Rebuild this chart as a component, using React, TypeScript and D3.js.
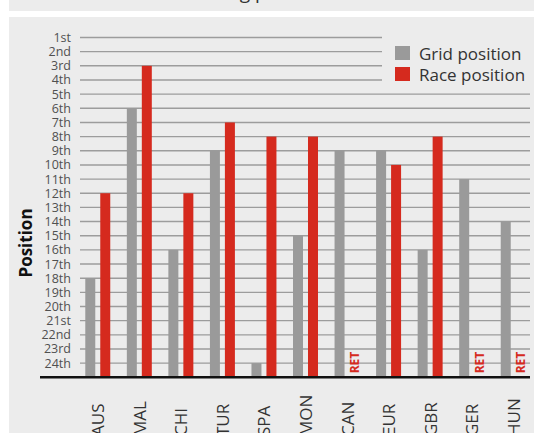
import React from "react";
import * as d3 from "d3";

const categories = ["AUS", "MAL", "CHI", "TUR", "SPA", "MON", "CAN", "EUR", "GBR", "GER", "HUN"];
const gridPositions: number[] = [18, 6, 16, 9, 24, 15, 9, 9, 16, 11, 14];
const racePositions: (number | null)[] = [12, 3, 12, 7, 8, 8, null, 10, 8, null, null];
const tickValues = d3.range(1, 25);
const tickLabels = [
  "1st", "2nd", "3rd", "4th", "5th", "6th", "7th", "8th", "9th", "10th", "11th", "12th",
  "13th", "14th", "15th", "16th", "17th", "18th", "19th", "20th", "21st", "22nd", "23rd", "24th",
];
const seriesNames = ["Grid position", "Race position"];
const seriesColors = ["#9a9a9a", "#d52a1e"];

const W = 534;
const H = 433;
const FONT = "'Open Sans', 'DejaVu Sans', sans-serif";

export default function App() {
  const y = d3.scaleLinear().domain([1, 25]).range([37.5, 377.3]);
  const x = d3.scaleBand<string>().domain(categories).range([77, 534]).paddingInner(0).paddingOuter(0);
  const x1 = d3
    .scaleBand<string>()
    .domain(["grid", "race"])
    .range([0, x.bandwidth()])
    .paddingInner(0.333)
    .paddingOuter(0.553);
  const base = y(25);

  return (
    <svg
      width={W}
      height={H}
      style={{ position: "absolute", left: 0, top: 0, background: "#ffffff" }}
      fontFamily={FONT}
    >
      {/* top strip with title (cut off at the top, as in the reference) */}
      <rect x={9} y={0} width={W - 9} height={11} fill="#ececec" />
      <text x={222} y={-1} textAnchor="middle" fontSize={19} fill="#333">
        Grid vs finishing positions
      </text>
      <rect x={0} y={0} width={9} height={H} fill="#ffffff" />
      {/* panel */}
      <rect x={9} y={17} width={W - 9} height={H - 17} fill="#ececec" />

      {/* gridlines */}
      {tickValues.map((v) => (
        <line
          key={"g" + v}
          x1={80}
          x2={v <= 4 ? 382 : 530}
          y1={y(v)}
          y2={y(v)}
          stroke="#9c9c9c"
          strokeWidth={1.4}
        />
      ))}

      {/* tick labels */}
      {tickValues.map((v, i) => (
        <text
          key={"t" + v}
          x={71}
          y={y(v)}
          textAnchor="end"
          dominantBaseline="central"
          fontSize={12.5}
          fill="#505050"
        >
          {tickLabels[i]}
        </text>
      ))}

      {/* bars */}
      {categories.map((c, i) => {
        const bx = x(c)!;
        const g = gridPositions[i];
        const r = racePositions[i];
        const gx = bx + x1("grid")!;
        const rx = bx + x1("race")!;
        return (
          <g key={c}>
            <rect x={gx} y={y(g)} width={x1.bandwidth()} height={base - y(g)} fill={seriesColors[0]} />
            {r !== null ? (
              <rect x={rx} y={y(r)} width={x1.bandwidth()} height={base - y(r)} fill={seriesColors[1]} />
            ) : (
              <text
                transform={`translate(${rx + x1.bandwidth() / 2},${base - 4}) rotate(-90)`}
                textAnchor="start"
                dominantBaseline="central"
                fontSize={12}
                fontWeight="bold"
                fill={seriesColors[1]}
              >
                RET
              </text>
            )}
          </g>
        );
      })}

      {/* axis line */}
      <line x1={40} x2={530} y1={base} y2={base} stroke="#111" strokeWidth={2.5} />

      {/* category labels */}
      {categories.map((c) => (
        <text
          key={"l" + c}
          transform={`translate(${x(c)! + x.bandwidth() / 2},${436}) rotate(-90)`}
          textAnchor="start"
          dominantBaseline="central"
          fontSize={17}
          fill="#333"
        >
          {c}
        </text>
      ))}

      {/* y title */}
      <text
        transform={`translate(25,243) rotate(-90)`}
        textAnchor="middle"
        dominantBaseline="central"
        fontSize={17}
        fontWeight="bold"
        fill="#111"
      >
        Position
      </text>

      {/* legend */}
      {seriesNames.map((s, i) => (
        <g key={s}>
          <rect x={395} y={46 + i * 21} width={15} height={14} fill={seriesColors[i]} />
          <text x={419} y={60 + i * 21} fontSize={17} fill="#333">
            {s}
          </text>
        </g>
      ))}
    </svg>
  );
}
